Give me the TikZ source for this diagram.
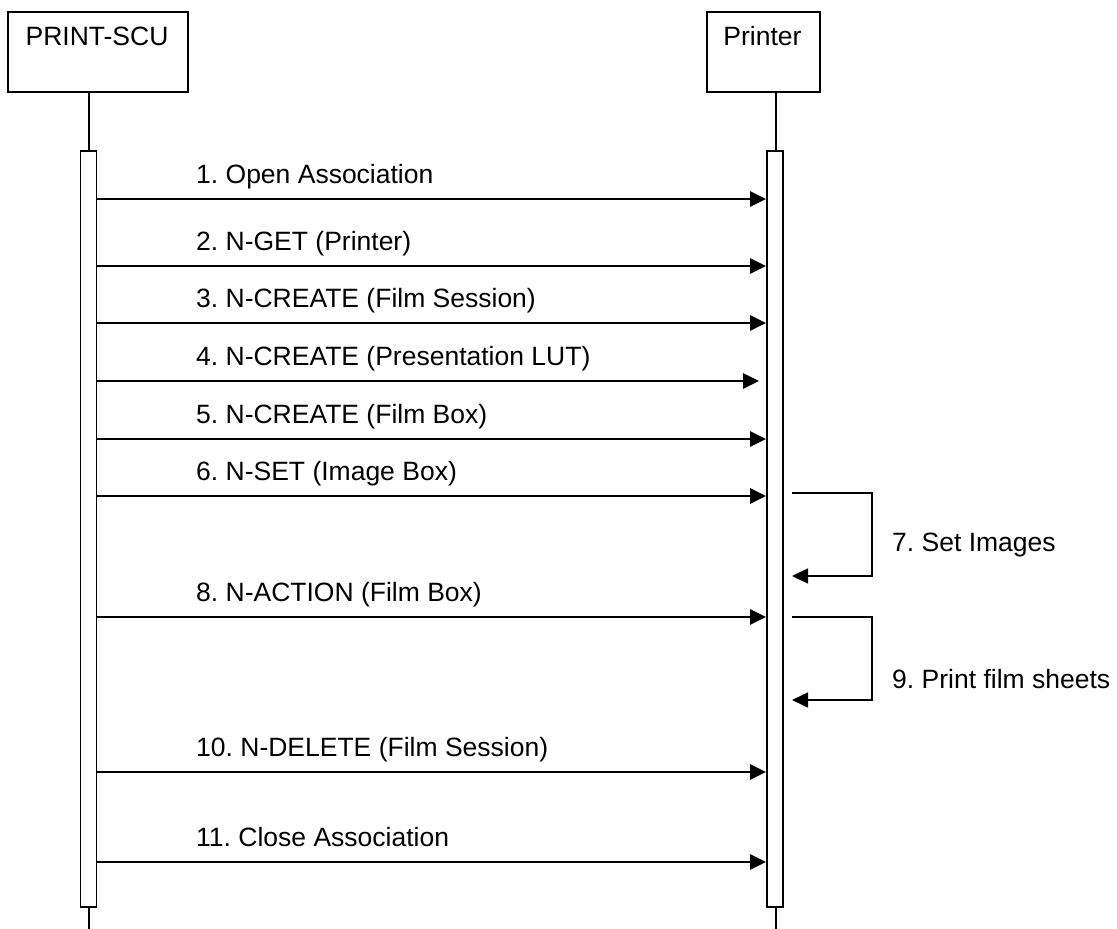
\documentclass[tikz,border=0pt]{standalone}
\usepackage{fontspec}
\setmainfont{Liberation Sans}
\usetikzlibrary{arrows.meta}
\begin{document}
\begin{tikzpicture}[x=1pt,y=-1pt,
  every node/.style={font=\frenchspacing\fontsize{26.5}{30}\selectfont, inner sep=0pt},
  actor/.style={draw, line width=1.8pt, minimum height=80pt, anchor=north west},
  actbar/.style={draw, line width=1.8pt, fill=white, minimum width=16pt, minimum height=756pt, anchor=north},
  life/.style={line width=1.8pt},
  msg/.style={line width=2.8pt, -{Triangle[length=16pt,width=15pt]}},
  selfmsg/.style={line width=1.6pt, -{Triangle[length=16pt,width=15pt]}},
  lbl/.style={anchor=base west}
]
\useasboundingbox (0,0) rectangle (1117,929);
% actors
\node[actor, minimum width=180pt] (scu) at (7,11) {};
\node[anchor=base] (scut) at (97,45) {PRINT-SCU};
\node[actor, minimum width=113pt] (prn) at (706,11) {};
\node[anchor=base] (prnt) at (762.5,45) {Printer};
% lifelines
\coordinate (scuend) at (89,929);
\coordinate (prnend) at (776,929);
\draw[life] (89,91) -- (scuend);
\draw[life] (776,91) -- (prnend);
% activation bars
\node[actbar] (sa) at (88.5,150) {};
\node[actbar] (pa) at (775,150) {};
% messages
\foreach \y/\t in {199/{1. Open Association},266/{2. N-GET (Printer)},323/{3. N-CREATE (Film Session)},
  439/{5. N-CREATE (Film Box)},496/{6. N-SET (Image Box)},617/{8. N-ACTION (Film Box)},
  772/{10. N-DELETE (Film Session)},862/{11. Close Association}}{
  \draw[msg] (sa.east |- 0,\y) -- (pa.west |- 0,\y);
  \node[lbl] at (196,\y-16) {\t};
}
\coordinate (m4end) at (759,381);
\draw[msg] (sa.east |- 0,381) -- (m4end);
\node[lbl] (l4) at (196,365) {4. N-CREATE (Presentation LUT)};
% self messages
\coordinate (s7a) at (792,493);
\coordinate (s7b) at (872,493);
\coordinate (s7c) at (872,576);
\coordinate (s7d) at (792,576);
\draw[selfmsg] (s7a) -- (s7b) -- (s7c) -- (s7d);
\node[lbl] (l7) at (892,551) {7. Set Images};
\coordinate (s9a) at (792,617);
\coordinate (s9b) at (872,617);
\coordinate (s9c) at (872,700);
\coordinate (s9d) at (792,700);
\draw[selfmsg] (s9a) -- (s9b) -- (s9c) -- (s9d);
\node[lbl] (l9) at (892,688) {9. Print film sheets};
\end{tikzpicture}
\end{document}
